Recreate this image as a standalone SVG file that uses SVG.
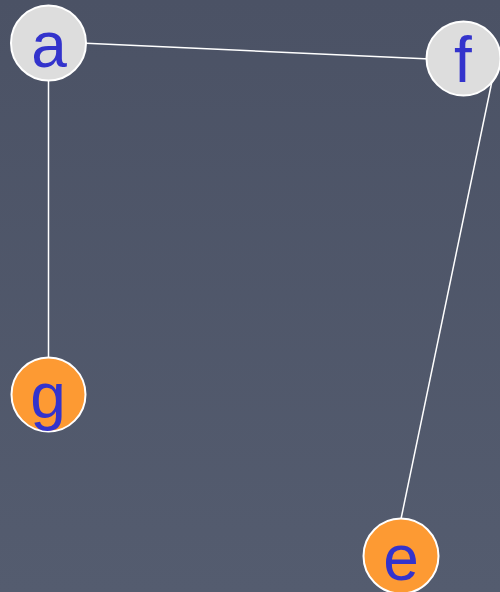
<svg xmlns="http://www.w3.org/2000/svg" width="500" height="592" viewBox="0 0 500 592">
  <defs>
    <linearGradient id="bg" x1="0" y1="0" x2="0" y2="1">
      <stop offset="0" stop-color="#4b5265"/>
      <stop offset="1" stop-color="#545c6f"/>
    </linearGradient>
    <style>
      .edge { stroke: #ffffff; stroke-width: 1.5; fill: none; }
      .node circle { stroke: #ffffff; stroke-width: 2; }
      .grey circle { fill: #dddddd; }
      .orange circle { fill: #fd9a33; }
      .node text { font-family: "Liberation Sans", Arial, sans-serif; font-size: 64px; fill: #3333cc; text-anchor: middle; }
    </style>
  </defs>
  <rect x="0" y="0" width="500" height="592" fill="url(#bg)"/>
  <g id="connectors">
    <line class="edge" x1="48" y1="41.5" x2="463" y2="60.6"/>
    <line class="edge" x1="48.5" y1="43" x2="48.5" y2="394"/>
    <line class="edge" x1="496.8" y1="58" x2="401" y2="519"/>
  </g>
  <g id="node-a" class="node grey">
    <circle cx="48.5" cy="43" r="37.5"/>
    <text x="49" y="67">a</text>
  </g>
  <g id="node-f" class="node grey">
    <circle cx="463.5" cy="58.5" r="37"/>
    <text x="463" y="82">f</text>
  </g>
  <g id="node-g" class="node orange">
    <circle cx="48.5" cy="394.5" r="37"/>
    <text x="48" y="418">g</text>
  </g>
  <g id="node-e" class="node orange">
    <circle cx="401" cy="556" r="37.5"/>
    <text x="401" y="580">e</text>
  </g>
</svg>
